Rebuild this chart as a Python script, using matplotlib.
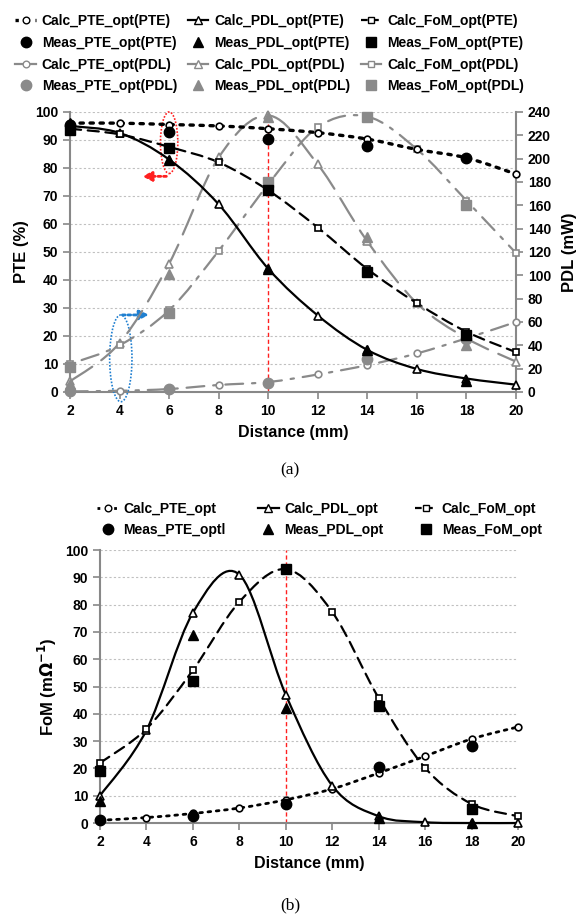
import numpy as np
import matplotlib
matplotlib.use("Agg")
import matplotlib.pyplot as plt
from matplotlib.path import Path
from matplotlib.patches import PathPatch, Ellipse
from matplotlib.lines import Line2D

plt.rcParams['font.family'] = ['Liberation Sans', 'DejaVu Sans']
plt.rcParams['font.weight'] = 'bold'

# ---- data (a) ----
dist = [2, 4, 6, 8, 10, 12, 14, 16, 18, 20]
meas_dist = [2, 6, 10, 14, 18]

# left axis, PTE (%)
calc_pte_pte = [96, 96, 95.5, 95, 94, 92.6, 90.3, 86.6, 83.6, 77.8]
calc_pdl_pte = [95, 92.5, 83, 67, 44, 27.3, 15, 8.2, 4.8, 2.6]
calc_fom_pte = [94, 92, 87.5, 82, 72, 58.7, 43.9, 31.7, 21.5, 14.2]
meas_pte_pte = [95.5, 93, 90.3, 87.8, 83.6]
meas_pdl_pte = [96, 83, 44, 15, 4]
meas_fom_pte = [93.5, 87, 72, 43, 20.5]

# right axis, PDL (mW)
calc_pte_pdl = [0.5, 1, 2.5, 6, 8.5, 15, 23, 33, 46, 60]
calc_pdl_pdl = [9, 42, 110, 201, 237, 195, 129, 76, 46, 26]
calc_fom_pdl = [24, 40, 70, 121, 178, 227, 236, 208, 164, 119]
meas_pte_pdl = [1, 2.5, 8, 28, 45]
meas_pdl_pdl = [7, 101, 236, 133, 40]
meas_fom_pdl = [21, 68, 180, 236, 160]

# ---- data (b) ----
calc_pte_b = [1, 2, 3.5, 5.5, 8.5, 12.5, 18.3, 24.5, 30.8, 35.2]
calc_pdl_b = [10, 34, 77, 91, 47, 13.7, 2.5, 0.3, 0, 0]
calc_fom_b = [22, 34.5, 56, 81, 93, 77.3, 45.8, 20.2, 7, 2.5]
meas_pte_b = [1, 2.5, 7, 20.6, 28.4]
meas_pdl_b = [8, 69, 42, 2, 0]
meas_fom_b = [19, 52, 93, 43, 5]

GREY = '#8a8a8a'
MS_OPEN = 4.8
MS_TRI = 5.5
MS_FILL = 7.5


def smooth_path(x, y):
    # Catmull-Rom style cubic Bezier through the points (Excel "smoothed line")
    x = np.asarray(x, float)
    y = np.asarray(y, float)
    n = len(x)
    verts = [(x[0], y[0])]
    codes = [Path.MOVETO]
    for i in range(n - 1):
        i0 = max(i - 1, 0)
        i3 = min(i + 2, n - 1)
        c1 = (x[i] + (x[i + 1] - x[i0]) / 6, y[i] + (y[i + 1] - y[i0]) / 6)
        c2 = (x[i + 1] - (x[i3] - x[i]) / 6, y[i + 1] - (y[i3] - y[i]) / 6)
        verts += [c1, c2, (x[i + 1], y[i + 1])]
        codes += [Path.CURVE4] * 3
    return Path(verts, codes)


def curve(ax, x, y, color, ls, lw, marker, ms):
    ax.add_patch(PathPatch(smooth_path(x, y), fill=False, edgecolor=color,
                           linestyle=ls, linewidth=lw, capstyle='round',
                           clip_on=False, zorder=3))
    ax.plot(x, y, ls='none', marker=marker, ms=ms, mfc='white', mec=color,
            mew=1.2, clip_on=False, zorder=4)


def points(ax, x, y, color, marker, ms):
    ax.plot(x, y, ls='none', marker=marker, ms=ms, color=color,
            clip_on=False, zorder=5)


def style_axes(ax):
    ax.set_xlim(2, 20)
    ax.set_ylim(0, 100)
    ax.set_xticks(dist)
    ax.set_yticks(range(0, 101, 10))
    ax.grid(axis='y', color='#c0c0c0', linestyle=(0, (2, 2)), linewidth=0.8)
    ax.set_axisbelow(True)
    for s in ['top', 'right']:
        ax.spines[s].set_visible(False)
    for s in ['left', 'bottom']:
        ax.spines[s].set_color('#888888')
        ax.spines[s].set_linewidth(1.5)
    ax.tick_params(colors='#888888', labelcolor='black', labelsize=10,
                   width=1.2, length=5)
    ax.set_xlabel('Distance (mm)', fontsize=11.5, fontweight='bold', labelpad=5)


DOT = (0, (1, 2))
DASH = (0, (5, 3))
LDASH = (0, (12, 5))
DASHDOT = (0, (8, 4, 1.5, 4))
DASHDOT2 = (0, (1.5, 4, 8, 4))

fig = plt.figure(figsize=(5.84, 9.16), dpi=100)

# ================= (a) =================
ax = fig.add_axes([0.1199, 0.5721, 0.7637, 0.3057])
style_axes(ax)
ax.set_ylabel('PTE (%)', fontsize=12, fontweight='bold', labelpad=4)
ax2 = ax.twinx()
ax2.set_ylim(0, 240)
ax2.set_yticks(range(0, 241, 20))
for s in ['top', 'left', 'bottom']:
    ax2.spines[s].set_visible(False)
ax2.spines['right'].set_color('#888888')
ax2.spines['right'].set_linewidth(1.5)
ax2.tick_params(colors='#888888', labelcolor='black', labelsize=10,
                width=1.2, length=5)
ax2.set_ylabel('PDL (mW)', fontsize=12, fontweight='bold', labelpad=8)

ax.axvline(10, color='#ff2020', ls=(0, (3, 2)), lw=1.0, zorder=2)

curve(ax2, dist, calc_pte_pdl, GREY, DASHDOT, 1.6, 'o', MS_OPEN)
curve(ax2, dist, calc_pdl_pdl, GREY, LDASH, 1.6, '^', MS_TRI)
curve(ax2, dist, calc_fom_pdl, GREY, DASHDOT2, 1.6, 's', MS_OPEN)
points(ax2, meas_dist, meas_pte_pdl, GREY, 'o', MS_FILL)
points(ax2, meas_dist, meas_pdl_pdl, GREY, '^', MS_FILL)
points(ax2, meas_dist, meas_fom_pdl, GREY, 's', MS_FILL)

curve(ax2, dist, [v * 2.4 for v in calc_pte_pte], 'black', DOT, 2.4, 'o', MS_OPEN)
curve(ax2, dist, [v * 2.4 for v in calc_pdl_pte], 'black', '-', 1.6, '^', MS_TRI)
curve(ax2, dist, [v * 2.4 for v in calc_fom_pte], 'black', DASH, 1.6, 's', MS_OPEN)
points(ax2, meas_dist, [v * 2.4 for v in meas_pte_pte], 'black', 'o', MS_FILL)
points(ax2, meas_dist, [v * 2.4 for v in meas_pdl_pte], 'black', '^', MS_FILL)
points(ax2, meas_dist, [v * 2.4 for v in meas_fom_pte], 'black', 's', MS_FILL)

# annotation ellipses and arrows
ax.add_patch(Ellipse((6, 89), 0.7, 22, fill=False, edgecolor='#ff2020',
                     ls=(0, (1, 1)), lw=1.2, clip_on=False, zorder=6))
ax.annotate('', xy=(4.8, 77), xytext=(6, 77),
            arrowprops=dict(arrowstyle='-|>', color='#ff2020', lw=2,
                            ls=(0, (1, 1)), mutation_scale=14), zorder=6)
ax.add_patch(Ellipse((4.05, 12), 0.9, 31, fill=False, edgecolor='#1f7fd0',
                     ls=(0, (1, 1)), lw=1.2, clip_on=False, zorder=6))
ax.annotate('', xy=(5.3, 27.5), xytext=(4, 27.5),
            arrowprops=dict(arrowstyle='-|>', color='#1f7fd0', lw=2,
                            ls=(0, (1, 1)), mutation_scale=14), zorder=6)

h = [
    Line2D([], [], color='black', ls=DOT, lw=2.4, marker='o', ms=MS_OPEN, mfc='white'),
    Line2D([], [], color='black', ls='none', marker='o', ms=MS_FILL),
    Line2D([], [], color=GREY, ls='-', lw=1.6, marker='o', ms=MS_OPEN, mfc='white'),
    Line2D([], [], color=GREY, ls='none', marker='o', ms=MS_FILL),
    Line2D([], [], color='black', ls='-', lw=1.6, marker='^', ms=MS_TRI, mfc='white'),
    Line2D([], [], color='black', ls='none', marker='^', ms=MS_FILL),
    Line2D([], [], color=GREY, ls='-', lw=1.6, marker='^', ms=MS_TRI, mfc='white'),
    Line2D([], [], color=GREY, ls='none', marker='^', ms=MS_FILL),
    Line2D([], [], color='black', ls=(0, (3, 2)), lw=1.6, marker='s', ms=MS_OPEN, mfc='white'),
    Line2D([], [], color='black', ls='none', marker='s', ms=MS_FILL),
    Line2D([], [], color=GREY, ls='-', lw=1.6, marker='s', ms=MS_OPEN, mfc='white'),
    Line2D([], [], color=GREY, ls='none', marker='s', ms=MS_FILL),
]
labels = ['Calc_PTE_opt(PTE)', 'Meas_PTE_opt(PTE)', 'Calc_PTE_opt(PDL)', 'Meas_PTE_opt(PDL)',
          'Calc_PDL_opt(PTE)', 'Meas_PDL_opt(PTE)', 'Calc_PDL_opt(PDL)', 'Meas_PDL_opt(PDL)',
          'Calc_FoM_opt(PTE)', 'Meas_FoM_opt(PTE)', 'Calc_FoM_opt(PDL)', 'Meas_FoM_opt(PDL)']
fig.legend(h, labels, ncol=3, loc='upper left', bbox_to_anchor=(0.005, 0.998),
           frameon=False, fontsize=10, handlelength=1.5, handletextpad=0.4,
           columnspacing=0.75, labelspacing=0.55)

fig.text(0.497, 1 - 470 / 916, '(a)', ha='center', va='center',
         family='Liberation Serif', fontweight='normal', fontsize=12.5)

# ================= (b) =================
bx = fig.add_axes([0.1712, 0.1015, 0.7158, 0.2980])
style_axes(bx)
bx.set_ylabel('FoM (m$\\mathbf{\\Omega^{-1}}$)', fontsize=12, fontweight='bold', labelpad=4)
bx.axvline(10, color='#ff2020', ls=(0, (3, 2)), lw=1.0, zorder=2)

curve(bx, dist, calc_pte_b, 'black', DOT, 2.0, 'o', MS_OPEN)
curve(bx, dist, calc_pdl_b, 'black', '-', 1.6, '^', MS_TRI)
curve(bx, dist, calc_fom_b, 'black', DASH, 1.6, 's', MS_OPEN)
points(bx, meas_dist, meas_pte_b, 'black', 'o', MS_FILL)
points(bx, meas_dist, meas_pdl_b, 'black', '^', MS_FILL)
points(bx, meas_dist, meas_fom_b, 'black', 's', MS_FILL)

hb = [
    Line2D([], [], color='black', ls=DOT, lw=2.0, marker='o', ms=MS_OPEN, mfc='white'),
    Line2D([], [], color='black', ls='none', marker='o', ms=MS_FILL),
    Line2D([], [], color='black', ls='-', lw=1.6, marker='^', ms=MS_TRI, mfc='white'),
    Line2D([], [], color='black', ls='none', marker='^', ms=MS_FILL),
    Line2D([], [], color='black', ls=(0, (3, 2)), lw=1.6, marker='s', ms=MS_OPEN, mfc='white'),
    Line2D([], [], color='black', ls='none', marker='s', ms=MS_FILL),
]
labels_b = ['Calc_PTE_opt', 'Meas_PTE_optl', 'Calc_PDL_opt', 'Meas_PDL_opt',
            'Calc_FoM_opt', 'Meas_FoM_opt']
fig.legend(hb, labels_b, ncol=3, loc='upper left', bbox_to_anchor=(0.145, 0.466),
           frameon=False, fontsize=10, handlelength=1.5, handletextpad=0.4,
           columnspacing=2.3, labelspacing=0.55)

fig.text(0.497, 1 - 905 / 916, '(b)', ha='center', va='center',
         family='Liberation Serif', fontweight='normal', fontsize=12.5)

fig.savefig('out.png', dpi=100)
